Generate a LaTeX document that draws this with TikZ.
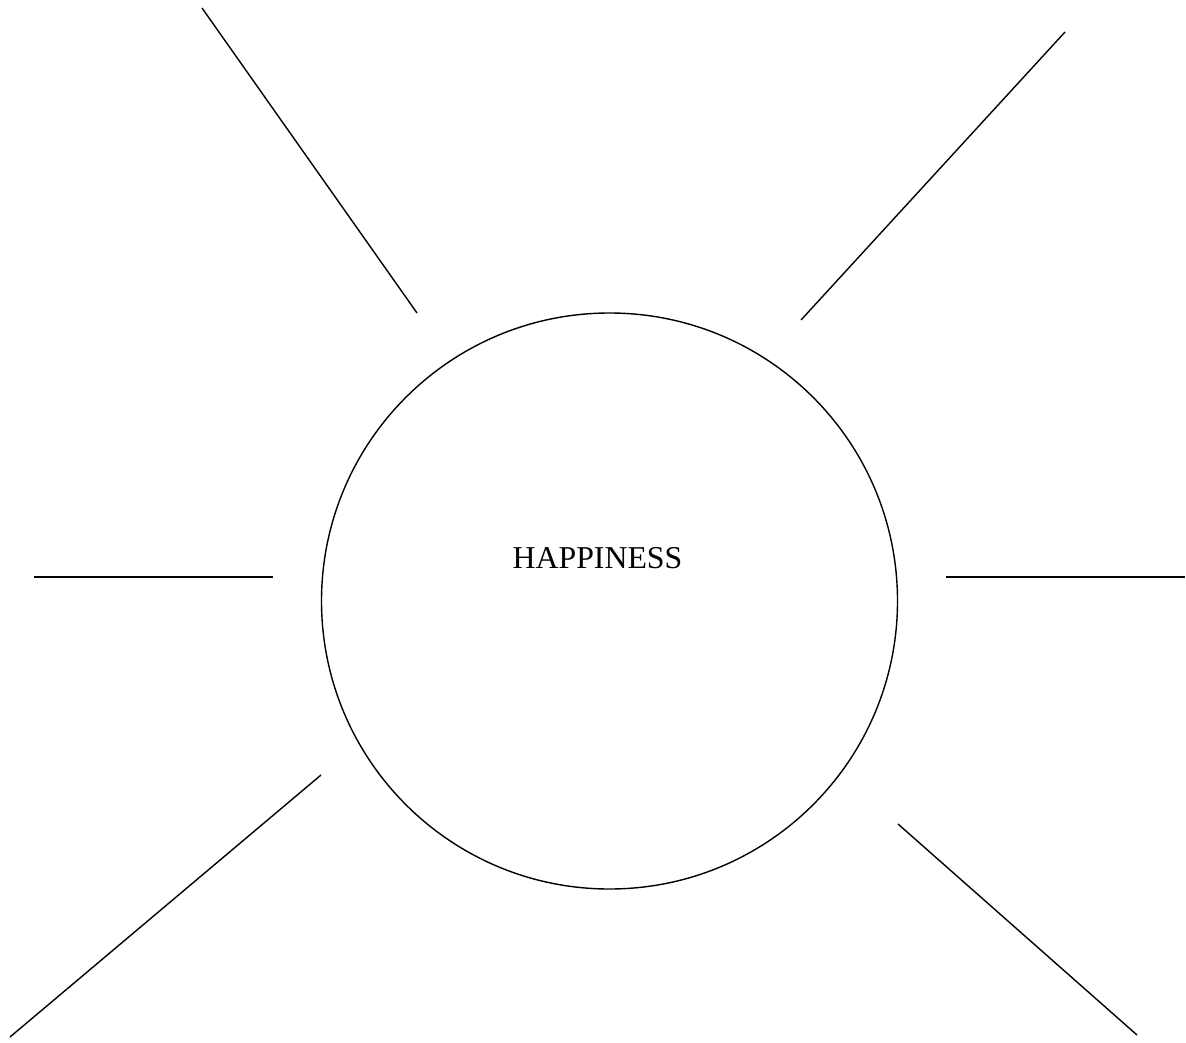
\documentclass[tikz,border=0pt]{standalone}
\usepackage{fontspec}
\setmainfont{Liberation Serif}
\begin{document}
\begin{tikzpicture}[x=0.5pt,y=-0.5pt,
  ray/.style={draw=black,line width=0.7pt},
  sun/.style={circle,draw=black,line width=0.7pt,minimum size=288pt,inner sep=0pt}]
\useasboundingbox (0,0) rectangle (1186,1042);
\node[sun] (circ) at (609.5,601) {};
\node[font=\fontsize{15.9}{19}\selectfont] (label) at (597.5,558) {HAPPINESS};
\coordinate (a1) at (202,8);    \coordinate (a2) at (417,313);
\coordinate (b1) at (1065,32);  \coordinate (b2) at (801,320);
\coordinate (c1) at (34,577);   \coordinate (c2) at (273,577);
\coordinate (d1) at (946,577);  \coordinate (d2) at (1185,577);
\coordinate (e1) at (321,775);  \coordinate (e2) at (10,1037);
\coordinate (f1) at (898,824);  \coordinate (f2) at (1137,1035);
\draw[ray] (a1) -- (a2);
\draw[ray] (b1) -- (b2);
\draw[ray] (c1) -- (c2);
\draw[ray] (d1) -- (d2);
\draw[ray] (e1) -- (e2);
\draw[ray] (f1) -- (f2);
\end{tikzpicture}
\end{document}
